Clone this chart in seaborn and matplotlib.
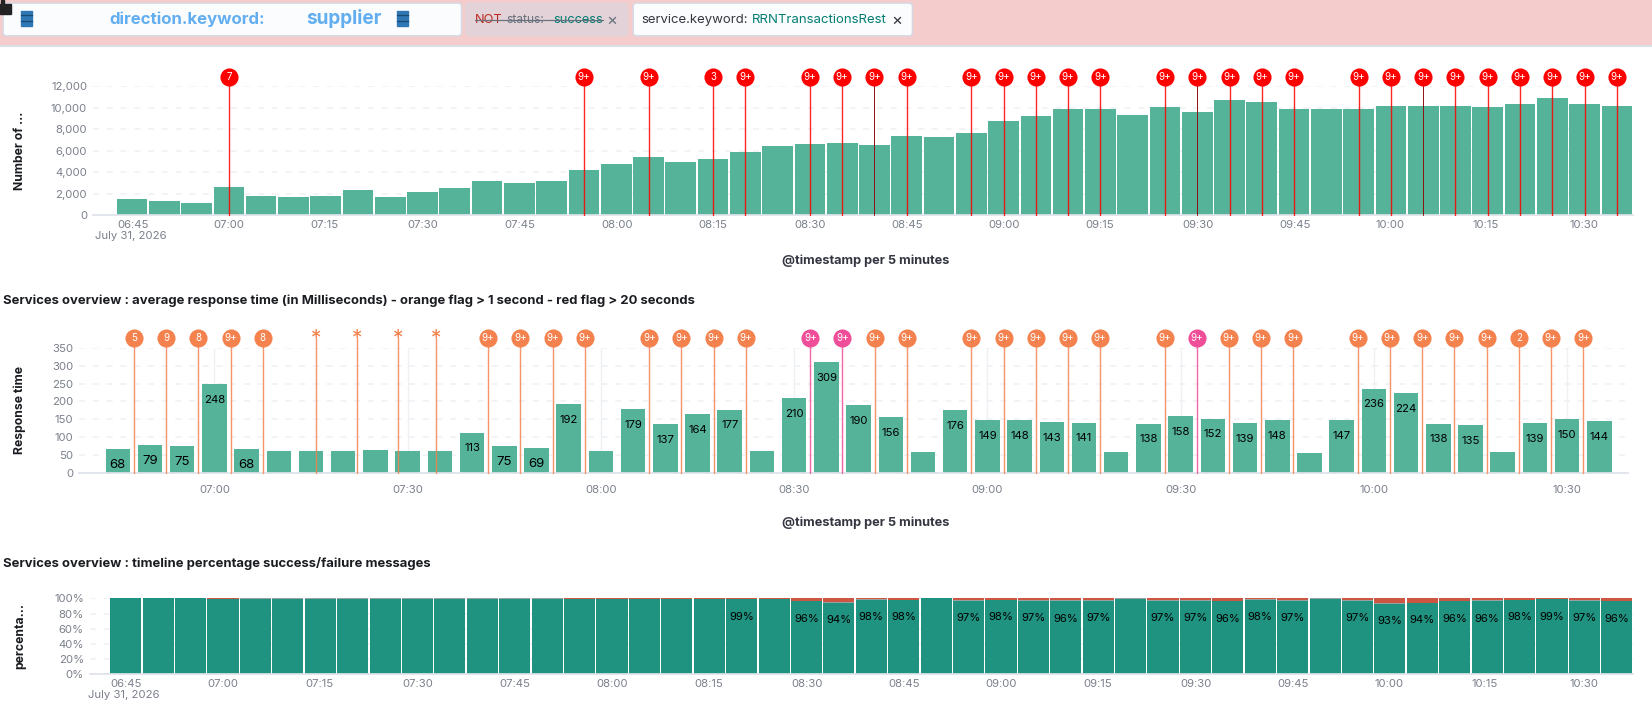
import numpy as np
import pandas as pd
import seaborn as sns
import matplotlib
matplotlib.use('Agg')
import matplotlib.pyplot as plt
from matplotlib.patches import FancyBboxPatch, Rectangle
from matplotlib.transforms import ScaledTranslation, blended_transform_factory

# === Data ===
times = ['06:45', '06:50', '06:55', '07:00', '07:05', '07:10', '07:15', '07:20', '07:25', '07:30', '07:35', '07:40',
         '07:45', '07:50', '07:55', '08:00', '08:05', '08:10', '08:15', '08:20', '08:25', '08:30', '08:35', '08:40',
         '08:45', '08:50', '08:55', '09:00', '09:05', '09:10', '09:15', '09:20', '09:25', '09:30', '09:35', '09:40',
         '09:45', '09:50', '09:55', '10:00', '10:05', '10:10', '10:15', '10:20', '10:25', '10:30', '10:35']

counts = [1450, 1300, 1100, 2650, 1780, 1680, 1780, 2350, 1720, 2100, 2500, 3200,
          3000, 3150, 4200, 4800, 5450, 4900, 5200, 5900, 6450, 6600, 6750, 6550,
          7350, 7280, 7650, 8800, 9250, 9900, 9900, 9300, 10050, 9600, 10700, 10550,
          9850, 9850, 9900, 10200, 10150, 10200, 10080, 10400, 10900, 10350, 10200]

response = [68, 79, 75, 248, 68, 61, 62, 62, 64, 62, 61, 113,
            75, 69, 192, 61, 179, 137, 164, 177, 62, 210, 309, 190,
            156, 60, 176, 149, 148, 143, 141, 58, 138, 158, 152, 139,
            148, 57, 147, 236, 224, 138, 135, 60, 139, 150, 144]

success = [100, 100, 100, 99.6, 99.9, 99.9, 99.9, 99.9, 99.9, 99.9, 99.9, 99.9,
           99.9, 99.9, 99.4, 99.8, 99.7, 99.7, 99.6, 98.6, 99.8, 96.3, 94.2, 98.2,
           98.0, 100, 97.0, 97.8, 97.2, 96.2, 97.2, 99.9, 97.0, 97.2, 96.3, 98.0,
           97.2, 99.9, 97.2, 93.0, 93.8, 96.0, 96.2, 98.0, 98.8, 97.0, 96.0]

other = [0, 0, 0, 0.3, 0.1, 0.1, 0.1, 0.1, 0.1, 0.1, 0.1, 0.1,
         0.1, 0.1, 0.2, 0.1, 0.2, 0.2, 0.3, 0.9, 0.1, 0.6, 0.9, 0.6,
         0.4, 0, 0.9, 0.5, 0.8, 1.1, 0.5, 0.1, 0.6, 0.5, 0.5, 0.8,
         0.5, 0.1, 0.5, 0.6, 0.6, 0.9, 1.1, 0.5, 0.9, 0.6, 1.1]

# first chart flags : index of the bar, label
count_flag_idx = [3, 14, 16, 18, 19, 21, 22, 23, 24, 26, 27, 28, 29, 30, 32, 33, 34, 35, 36, 38, 39, 40, 41, 42, 43, 44, 45, 46]
count_flag_txt = ['7', '9+', '9+', '3'] + ['9+'] * 24
count_flag_dark = [23, 33, 40]

# second chart flags sit between the bars
resp_flag_pos = [0.5, 1.5, 2.5, 3.5, 4.5, 6.16, 7.43, 8.71, 9.89, 11.5, 12.5, 13.5, 14.5, 16.5, 17.5, 18.5, 19.5,
                 21.5, 22.5, 23.5, 24.5, 26.5, 27.5, 28.5, 29.5, 30.5, 32.5, 33.5, 34.5, 35.5, 36.5,
                 38.5, 39.5, 40.5, 41.5, 42.5, 43.5, 44.5, 45.5]
resp_flag_txt = ['5', '9', '8', '9+', '8', '*', '*', '*', '*'] + ['9+'] * 27 + ['2', '9+', '9+']
resp_flag_pink = [21.5, 22.5, 33.5]

# === Style ===
# layout below is measured on a 1568 wide view of the 1652 wide picture
W, H = 1568, 666.3
GREEN = '#54b399'
DARK_GREEN = '#209280'
RED_FAIL = '#cc5642'
GREY_OTHER = '#98a2a3'
ORANGE = '#f4824f'
PINK = '#f04e98'
FLAG_RED = '#ff0000'
TICK = '#7b808c'
TITLE = '#1a1c21'

sns.set_theme(style='white')
plt.rcParams['font.family'] = ['Inter', 'DejaVu Sans']

fig = plt.figure(figsize=(16.52, 7.02), dpi=100, facecolor='white')

# background layer, for the filter bar and the free texts
bg = fig.add_axes([0, 0, 1, 1], zorder=0)
bg.set_xlim(0, W)
bg.set_ylim(H, 0)
bg.axis('off')


def px_axes(left, top, right, bottom):
    ax = fig.add_axes([left / W, 1 - bottom / H, (right - left) / W, (bottom - top) / H], zorder=1)
    ax.patch.set_alpha(0)
    return ax


def barrel(x, y):
    bg.add_patch(Rectangle((x, y), 10, 15, color='#2f77b5', zorder=3))
    for dy in (4, 10):
        bg.plot([x, x + 10], [y + dy, y + dy], color='#1c4a75', lw=1, zorder=4)


def pill(x0, x1, face, edge='#d3dae6'):
    bg.add_patch(FancyBboxPatch((x0, 3), x1 - x0, 31, boxstyle='round,pad=0,rounding_size=3',
                                fc=face, ec=edge, lw=1, zorder=2))


def style_axes(ax, xlim, ylim, yticks, ylabels):
    ax.set_xlim(*xlim)
    ax.set_ylim(*ylim)
    ax.set_yticks(yticks, ylabels)
    ax.yaxis.grid(True, color='#eef0f4', lw=1.1, ls=(0, (4, 5)))
    ax.xaxis.grid(False)
    ax.set_axisbelow(True)
    sns.despine(ax=ax, left=True, top=True, right=True)
    ax.spines['bottom'].set_color('#dfe3ea')
    ax.tick_params(axis='y', length=0, labelsize=8.2, labelcolor=TICK, pad=4)


def time_ticks(ax, shift_px):
    pos = [i - 0.5 for i in range(0, len(times), 3)]
    ax.set_xticks(pos, times[::3])
    ax.tick_params(axis='x', length=11, width=0.8, color='#c4c8d0', labelsize=8.2, labelcolor=TICK, pad=-7.5)
    off = ScaledTranslation(shift_px / 100, 0, fig.dpi_scale_trans)
    for lab in ax.get_xticklabels():
        lab.set_ha('left')
        lab.set_transform(lab.get_transform() + off)


def draw_flags(ax, xs, labels, colors, y_frac, dark=()):
    trans = blended_transform_factory(ax.transData, ax.transAxes)
    for x, txt, col in zip(xs, labels, colors):
        if x in dark:
            ax.plot([x, x], [0, y_frac], transform=trans, color='#8c1010', lw=0.7, clip_on=False, zorder=5)
        else:
            ax.plot([x, x], [0, y_frac], transform=trans, color=col, lw=1.0, alpha=0.85, clip_on=False, zorder=5)
        if txt == '*':
            ax.text(x, y_frac - 0.005, '*', transform=trans, color=col, fontsize=15, ha='center', va='center', zorder=6)
            continue
        ax.scatter([x], [y_frac], transform=trans, s=170, color=col, clip_on=False, zorder=6, linewidths=0)
        ax.text(x, y_frac, txt, transform=trans, color='white', fontsize=7, ha='center', va='center', zorder=7)


def axis_titles(ax, left, right, ylabel, xlabel=None, xlabel_drop=None):
    ax.set_ylabel(ylabel, fontsize=8.8, fontweight='bold', color=TITLE)
    ax.yaxis.set_label_coords((25 - left) / (right - left), 0.5)
    if xlabel:
        ax.set_xlabel(xlabel, fontsize=9.2, fontweight='bold', color='#343741')
        ax.xaxis.set_label_coords((822 - left) / (right - left), xlabel_drop)
    else:
        ax.set_xlabel('')


# === Filter bar ===
bg.add_patch(Rectangle((0, 0), W, 43, color='#f5cccc', zorder=1))
bg.plot([0, W], [43.5, 43.5], color='#d5dfe8', lw=1.2, zorder=1)
pill(3, 438, '#fbfcfd')
pill(442, 596, '#e3d3d8', '#e3d3d8')
pill(601, 866, '#fbfcfd')
barrel(20, 10)
barrel(377, 10)
bg.text(104, 18, 'direction.keyword:', fontsize=12.1, fontweight='bold', color='#62aef0', va='center', zorder=3)
bg.text(291, 18, 'supplier', fontsize=13.7, fontweight='bold', color='#62aef0', va='center', zorder=3)
bg.text(451, 19, 'NOT', fontsize=9.2, color='#bd271e', va='center', zorder=3)
bg.text(481, 19, 'status:', fontsize=8.6, color='#69707d', va='center', zorder=3)
bg.text(525, 19, 'success', fontsize=9.2, color='#017d73', va='center', zorder=3)
bg.plot([451, 572], [19, 19], color='#69707d', lw=0.9, zorder=4)
bg.text(581, 19, '×', fontsize=12, color='#69707d', ha='center', va='center', zorder=3)
bg.text(609, 19, 'service.keyword:', fontsize=9.5, color='#343741', va='center', zorder=3)
bg.text(714, 19, 'RRNTransactionsRest', fontsize=9.5, color='#017d73', va='center', zorder=3)
bg.text(851, 19, '×', fontsize=12, color='#343741', ha='center', va='center', zorder=3)
bg.add_patch(Rectangle((0, 4), 10, 9, color='#222222', zorder=6))
bg.add_patch(Rectangle((1, 0), 3, 4, color='#222222', zorder=6))

# === Chart 1 : count per 5 minutes ===
left1, right1 = 88, 1550
step1 = (right1 - 110) / len(times)
ax1 = px_axes(left1, 82, right1, 204)
df = pd.DataFrame({'time': times, 'count': counts})
sns.barplot(data=df, x='time', y='count', ax=ax1, color=GREEN, saturation=1, width=0.95, linewidth=0)
style_axes(ax1, ((left1 - 110) / step1 - 0.5, len(times) - 0.5), (0, 12000),
           [0, 2000, 4000, 6000, 8000, 10000, 12000], ['0', '2,000', '4,000', '6,000', '8,000', '10,000', '12,000'])
time_ticks(ax1, 1)
draw_flags(ax1, count_flag_idx, count_flag_txt, [FLAG_RED] * len(count_flag_idx), (204 - 73) / 122, count_flag_dark)
axis_titles(ax1, left1, right1, 'Number of ...', '@timestamp per 5 minutes', -0.31)
bg.text(90, 224, 'July 31, 2026', fontsize=8.2, color=TICK, va='center')

# === Chart 2 : response time ===
bg.text(3, 285.5, 'Services overview : average response time (in Milliseconds) - orange flag > 1 second - red flag > 20 seconds',
        fontsize=9.4, fontweight='bold', color=TITLE, va='center')
left2, right2 = 75, 1545
step2 = 30.57
zero2 = 111.8  # centre of the first bar
ax2 = px_axes(left2, 330, right2, 449)
df = pd.DataFrame({'time': times, 'response': response})
sns.barplot(data=df, x='time', y='response', ax=ax2, color=GREEN, saturation=1, width=0.76, linewidth=0)
style_axes(ax2, ((left2 - zero2) / step2, (right2 - zero2) / step2), (0, 350),
           list(range(0, 351, 50)), [str(v) for v in range(0, 351, 50)])
major = list(range(3, len(times), 6))
ax2.set_xticks(major, [times[i] for i in major])
ax2.tick_params(axis='x', length=0, labelsize=8.2, labelcolor=TICK, pad=8.5)
ax2.vlines(major, 0, 350, color='#eef0f4', lw=1, zorder=0)
for i, v in enumerate(response):
    if v > 65:
        ax2.annotate(str(v), (i, v), xytext=(0, -11.4), textcoords='offset points', ha='center', va='center',
                     fontsize=9.5 if v < 80 else 8.2, color='black', zorder=4)
flag_cols = [PINK if x in resp_flag_pink else ORANGE for x in resp_flag_pos]
draw_flags(ax2, resp_flag_pos, resp_flag_txt, flag_cols, (449 - 321) / 119)
axis_titles(ax2, left2, right2, 'Response time', '@timestamp per 5 minutes', -0.345)

# === Chart 3 : success percentage, layers painted from the back ===
bg.text(3, 534.5, 'Services overview : timeline percentage success/failure messages',
        fontsize=9.4, fontweight='bold', color=TITLE, va='center')
left3, right3 = 85, 1550
step3 = (right3 - 104) / len(times)
ax3 = px_axes(left3, 568, right3, 640)
df = pd.DataFrame({'time': times, 'success': success, 'other': other})
df['total'] = 100
df['upper'] = df['success'] + df['other']
sns.barplot(data=df, x='time', y='total', ax=ax3, color=RED_FAIL, saturation=1, width=0.96, linewidth=0)
sns.barplot(data=df, x='time', y='upper', ax=ax3, color=GREY_OTHER, saturation=1, width=0.96, linewidth=0)
sns.barplot(data=df, x='time', y='success', ax=ax3, color=DARK_GREEN, saturation=1, width=0.96, linewidth=0)
style_axes(ax3, ((left3 - 104) / step3 - 0.5, len(times) - 0.5), (0, 100),
           [0, 20, 40, 60, 80, 100], ['0%', '20%', '40%', '60%', '80%', '100%'])
time_ticks(ax3, 1)
for i, v in enumerate(success):
    if i >= 19 and v < 99:
        ax3.annotate(f'{round(v)}%', (i, v), xytext=(0, -12.5), textcoords='offset points', ha='center', va='center',
                     fontsize=8.2, color='black', zorder=4)
axis_titles(ax3, left3, right3, 'percenta...')
bg.text(84, 660, 'July 31, 2026', fontsize=8.2, color=TICK, va='center')

fig.savefig('out.png', dpi=100)
plt.close(fig)
